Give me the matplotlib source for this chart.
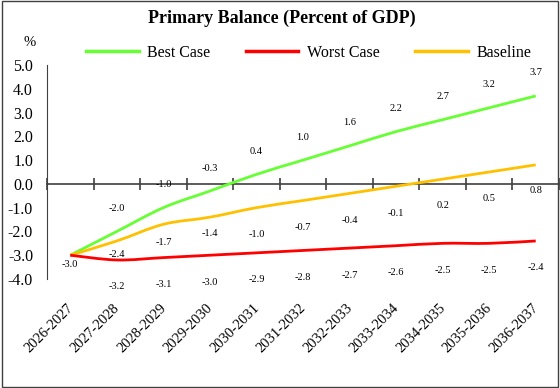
import matplotlib.pyplot as plt
from matplotlib.path import Path
from matplotlib.patches import PathPatch, Rectangle
from matplotlib.lines import Line2D
from matplotlib.transforms import ScaledTranslation
import numpy as np

plt.rcParams['font.family'] = ['Liberation Serif', 'DejaVu Serif']

years = ["2026-2027", "2027-2028", "2028-2029", "2029-2030", "2030-2031",
         "2031-2032", "2032-2033", "2033-2034", "2034-2035", "2035-2036",
         "2036-2037"]
best_case = [-3.0, -2.0, -1.0, -0.3, 0.4, 1.0, 1.6, 2.2, 2.7, 3.2, 3.7]
worst_case = [-3.0, -3.2, -3.1, -3.0, -2.9, -2.8, -2.7, -2.6, -2.5, -2.5, -2.4]
baseline = [-3.0, -2.4, -1.7, -1.4, -1.0, -0.7, -0.4, -0.1, 0.2, 0.5, 0.8]

GREEN = "#66FF33"
RED = "#FF0000"
ORANGE = "#FFC000"


def smooth_path(ys):
    # Catmull-Rom style bezier through the points (like Excel's smoothed line)
    pts = np.column_stack([np.arange(len(ys)), ys]).astype(float)
    verts = [pts[0]]
    codes = [Path.MOVETO]
    n = len(pts)
    for i in range(n - 1):
        p0 = pts[max(i - 1, 0)]
        p1 = pts[i]
        p2 = pts[i + 1]
        p3 = pts[min(i + 2, n - 1)]
        verts += [p1 + (p2 - p0) / 6, p2 - (p3 - p1) / 6, p2]
        codes += [Path.CURVE4] * 3
    return Path(verts, codes)


fig = plt.figure(figsize=(5.6, 3.88), dpi=100)
ax = fig.add_axes([47 / 560, 1 - 279 / 388, 512 / 560, 214 / 388])

x = np.arange(len(years))
for ys, col in [(best_case, GREEN), (baseline, ORANGE), (worst_case, RED)]:
    ax.add_patch(PathPatch(smooth_path(ys), facecolor="none", edgecolor=col,
                           lw=2.0, capstyle="butt", zorder=3))

ax.set_xlim(-0.5, len(years) - 0.5)
ax.set_ylim(-4, 5)

# data labels
px = 0.72
for i, v in enumerate(best_case):
    if i == 0:
        continue
    ax.annotate(f"{v:.1f}", (i, v), xytext=(0, 23 * px), textcoords="offset points",
                ha="center", va="center", fontsize=7.5)
base_off = [9, 14, 18, 16, 27, 27, 27, 27, 26, 26, 26]
for i, v in enumerate(baseline):
    ax.annotate(f"{v:.1f}", (i, v), xytext=(0, -base_off[i] * px), textcoords="offset points",
                ha="center", va="center", fontsize=7.5)
for i, v in enumerate(worst_case):
    if i == 0:
        continue
    ax.annotate(f"{v:.1f}", (i, v), xytext=(0, -27 * px), textcoords="offset points",
                ha="center", va="center", fontsize=7.5)

# axes: y spine on the left, category axis crossing at zero
for s in ["top", "right"]:
    ax.spines[s].set_visible(False)
ax.spines["left"].set_color("#404040")
ax.spines["bottom"].set_position(("data", 0))
ax.spines["bottom"].set_color("#404040")
ax.spines["bottom"].set_linewidth(1.2)
ax.set_xticks(np.arange(-0.5, len(years), 1.0))
ax.tick_params(axis="x", direction="inout", length=8, width=1.2, color="#404040",
               labelbottom=False)
ax.set_yticks(np.arange(-4, 5.1, 1))
ax.set_yticklabels([f"{t:.1f}" for t in np.arange(-4, 5.1, 1)], fontsize=11.5)
ax.tick_params(axis="y", length=0, pad=10)

sec = ax.secondary_xaxis("bottom")
sec.spines["bottom"].set_visible(False)
sec.set_xticks(x)
sec.set_xticklabels(years, rotation=45, ha="right", rotation_mode="anchor", fontsize=10.5)
sec.tick_params(length=0, pad=16)
shift = ScaledTranslation(-4 / 100, 0, fig.dpi_scale_trans)
for lab in sec.get_xticklabels():
    lab.set_transform(lab.get_transform() + shift)

fig.text(0.503, 1 - 18 / 388, "Primary Balance (Percent of GDP)", ha="center", va="center",
         fontsize=13, fontweight="bold")
fig.text(30 / 560, 1 - 42 / 388, "%", ha="center", va="center", fontsize=10.5)

handles = [Line2D([], [], color=GREEN, lw=2.5),
           Line2D([], [], color=RED, lw=2.5),
           Line2D([], [], color=ORANGE, lw=2.5)]
fig.legend(handles, ["Best Case", "Worst Case", "Baseline"], ncol=3, frameon=False,
           loc="center", bbox_to_anchor=(0.551, 1 - 53 / 388), fontsize=11.5,
           handlelength=3.3, handletextpad=0.55, columnspacing=2.2)

fig.add_artist(Rectangle((0.004, 0.003), 0.992, 0.994, transform=fig.transFigure,
                         fill=False, edgecolor="#404040", lw=1.0))

fig.savefig("out.png", dpi=100)
